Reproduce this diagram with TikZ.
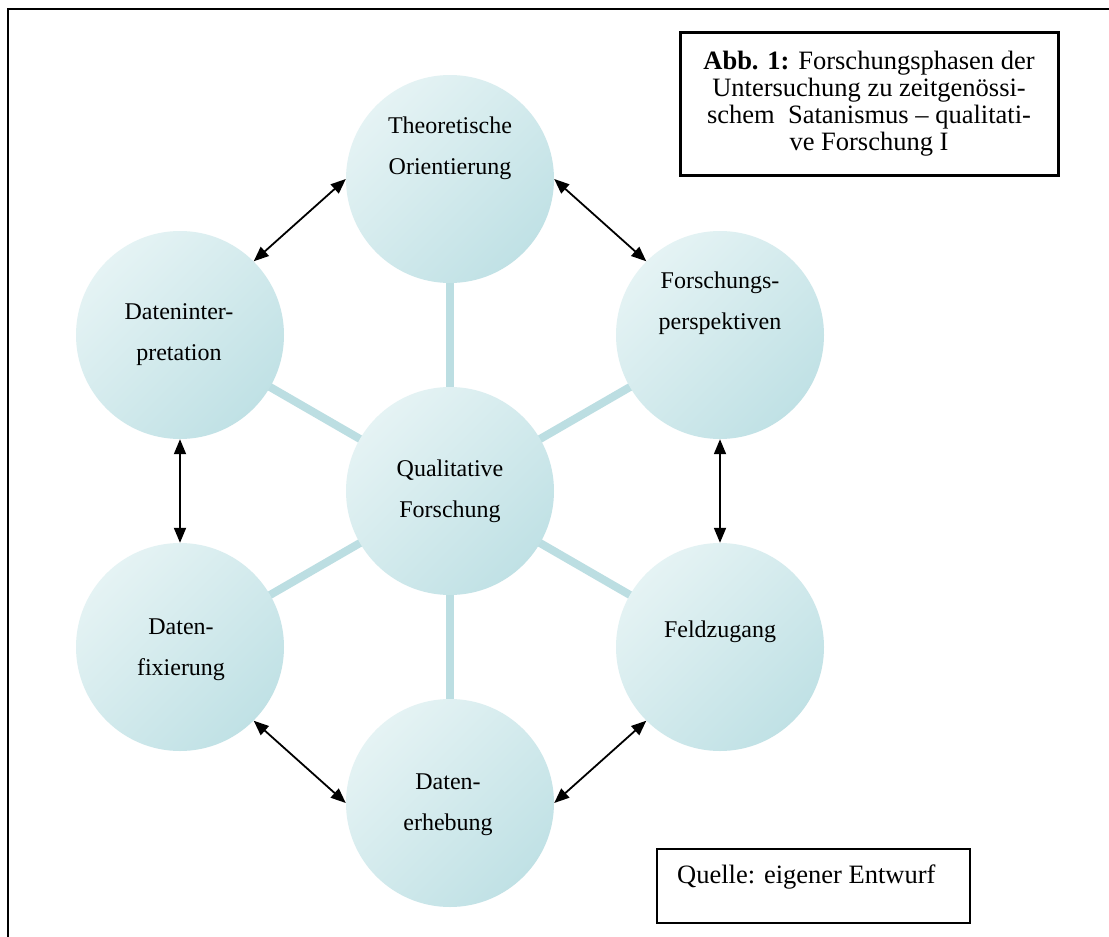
\documentclass[tikz,border=0pt]{standalone}
\usepackage{fontspec}
\setmainfont{Liberation Serif}
\usetikzlibrary{arrows.meta,shadings}
\definecolor{circlight}{RGB}{229,243,244}
\definecolor{circdark}{RGB}{192,225,229}
\definecolor{spokecol}{RGB}{188,222,226}
\tikzset{
  phase/.style={circle, minimum size=208pt, inner sep=0pt, top color=circlight, bottom color=circdark, shading angle=45},
  spoke/.style={draw=spokecol, line width=8pt},
  link/.style={{Triangle[length=15pt,width=12pt]}-{Triangle[length=15pt,width=12pt]}, line width=1.8pt, draw=black},
  lbl/.style={align=center, font=\fontsize{24}{41}\selectfont, inner sep=0pt},
  frame/.style={draw=black, line width=2pt},
  titlebox/.style={draw=black, line width=3pt, minimum width=378pt, minimum height=143pt, inner sep=0pt, align=center, font=\fontsize{26.5}{27}\selectfont},
  srcbox/.style={draw=black, line width=1.5pt, minimum width=313pt, minimum height=74pt, inner sep=0pt},
  srctext/.style={font=\fontsize{26.5}{30}\selectfont, inner sep=0pt},
}
\begin{document}
\begin{tikzpicture}[x=1pt,y=-1pt]
\useasboundingbox (0,0) rectangle (1109,937);
\clip (0,0) rectangle (1109,937);
\fill[white] (0,0) rectangle (1109,937);
\draw[frame] (8,9) rectangle (1200,1000);

% centres
\coordinate (pC) at (450,491);
\coordinate (pT) at (450,179);
\coordinate (pB) at (450,803);
\coordinate (pUL) at (180,335);
\coordinate (pLL) at (180,647);
\coordinate (pUR) at (720,335);
\coordinate (pLR) at (720,647);

% spokes
\foreach \p in {pT,pB,pUL,pLL,pUR,pLR} \draw[spoke] (pC) -- (\p);

% circles
\node[phase] (C) at (pC) {};
\node[phase] (T) at (pT) {};
\node[phase] (B) at (pB) {};
\node[phase] (UL) at (pUL) {};
\node[phase] (LL) at (pLL) {};
\node[phase] (UR) at (pUR) {};
\node[phase] (LR) at (pLR) {};

% labels
\node[lbl] (tC) at (450,491) {Qualitative\\Forschung};
\node[lbl] (tT) at (450,148) {Theoretische\\Orientierung};
\node[lbl] (tUL) at (179,335) {Dateninter-\\pretation};
\node[lbl] (tUR) at (720,303) {Forschungs-\\perspektiven};
\node[lbl] (tLL) at (181,650) {Daten-\\fixierung};
\node[lbl] (tLR) at (720,632) {Feldzugang};
\node[lbl] (tB) at (448,805) {Daten-\\erhebung};

% arrows
\draw[link] (T.west) -- (UL.45);
\draw[link] (T.east) -- (UR.135);
\draw[link] (UL.south) -- (LL.north);
\draw[link] (UR.south) -- (LR.north);
\draw[link] (LL.-45) -- (B.west);
\draw[link] (B.east) -- (LR.-135);

% title box
\node[titlebox] (title) at (869,103.5) {\textbf{Abb. 1:} Forschungsphasen der\\Untersuchung zu zeitgenössi-\\schem\ \ Satanismus – qualitati-\\ve Forschung I};

% source box
\node[srcbox, anchor=north west] (src) at (656,848) {};
\node[srctext, anchor=west] (srct) at (677,877) {Quelle: eigener Entwurf};
\end{tikzpicture}
\end{document}
